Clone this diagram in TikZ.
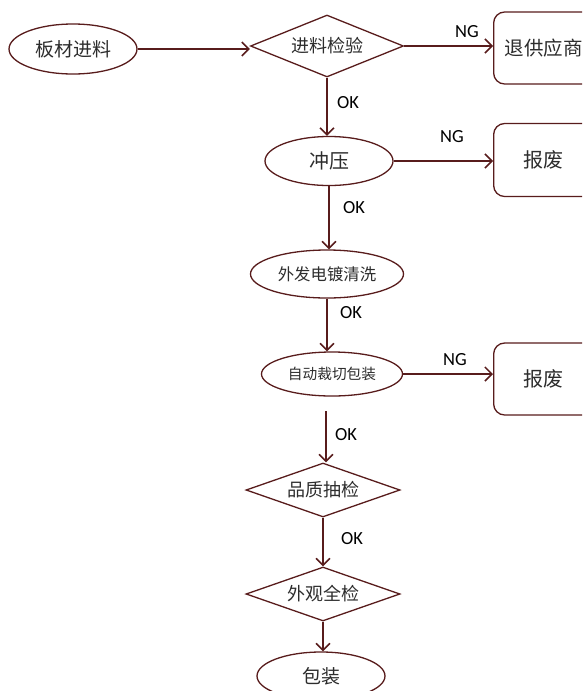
\documentclass[tikz,border=0pt]{standalone}
\usepackage{fontspec}
\setmainfont{Carlito}
\newfontfamily\cjk{Noto Sans CJK SC}
\usetikzlibrary{shapes.geometric,arrows.meta}
\definecolor{ln}{RGB}{88,28,28}
\definecolor{tx}{RGB}{45,45,45}
\newcommand\cz[1]{\fontsize{#1}{#1}\selectfont\cjk}
\begin{document}
\begin{tikzpicture}[x=1pt,y=-1pt,
 ell/.style={ellipse,draw=ln,line width=1.3pt,inner sep=0pt,text=tx},
 dia/.style={diamond,draw=ln,line width=1.3pt,inner sep=0pt,shape aspect=2.6,text=tx},
 rbox/.style={rectangle,rounded corners=11pt,draw=ln,line width=1.3pt,inner sep=0pt,text=tx},
 arr/.style={draw=ln,line width=1.8pt,-{Straight Barb[length=7pt,width=14pt,line width=1.5pt]}},
 lbl/.style={font=\fontsize{18.5}{18.5}\selectfont,text=black,inner sep=0pt}]
\clip (0,0) rectangle (582,691);
\fill[white] (0,0) rectangle (582,691);
% nodes
\node[ell,minimum width=128pt,minimum height=50pt] (bc) at (73,49) {\cz{19}板材进料};
\node[dia,minimum width=153pt,minimum height=62pt] (jl) at (327,46) {\cz{18}进料检验};
\node[rbox,minimum width=100pt,minimum height=72pt,anchor=west] (tg) at (493,48) {\cz{19.5}退供应商};
\node[ell,minimum width=128pt,minimum height=49pt] (cy) at (329,161) {\cz{20}冲压};
\node[rbox,minimum width=100pt,minimum height=73pt,anchor=west] (bf1) at (493,160) {\cz{20}报废};
\node[ell,minimum width=153pt,minimum height=48pt] (wf) at (327,274) {\cz{16.4}外发电镀清洗};
\node[ell,minimum width=141pt,minimum height=44pt] (zd) at (332,374) {\cz{14.7}自动裁切包装};
\node[rbox,minimum width=100pt,minimum height=72pt,anchor=west] (bf2) at (493,379) {\cz{20}报废};
\node[dia,minimum width=154pt,minimum height=54pt] (pz) at (323,490) {\cz{18}品质抽检};
\node[dia,minimum width=154pt,minimum height=54pt] (wg) at (323,594) {\cz{18}外观全检};
\node[ell,minimum width=128pt,minimum height=48pt] (bz) at (321,676) {\cz{19}包装};
% labels
\node[lbl] (ng1) at (467,32) {NG};
\node[lbl] (ng2) at (452,137) {NG};
\node[lbl] (ng3) at (455,360) {NG};
\node[lbl] (ok1) at (348,103) {OK};
\node[lbl] (ok2) at (354,208) {OK};
\node[lbl] (ok3) at (351,313) {OK};
\node[lbl] (ok4) at (346,435) {OK};
\node[lbl] (ok5) at (352,539) {OK};
% connectors
\draw[arr] (bc.east) -- (bc.east -| jl.west);
\draw[arr] (jl.east) -- (jl.east -| tg.west);
\draw[arr] (jl.south) -- (jl.south |- cy.north);
\draw[arr] (cy.east) -- (cy.east -| bf1.west);
\draw[arr] (cy.south) -- (cy.south |- wf.north);
\draw[arr] (wf.south) -- (wf.south |- zd.north);
\draw[arr] (zd.east) -- (zd.east -| bf2.west);
\coordinate (c1) at (326,411);
\draw[arr] (c1) -- (c1 |- pz.north);
\draw[arr] (pz.south) -- (pz.south |- wg.north);
\draw[arr] (wg.south) -- (wg.south |- bz.north);
\end{tikzpicture}
\end{document}
